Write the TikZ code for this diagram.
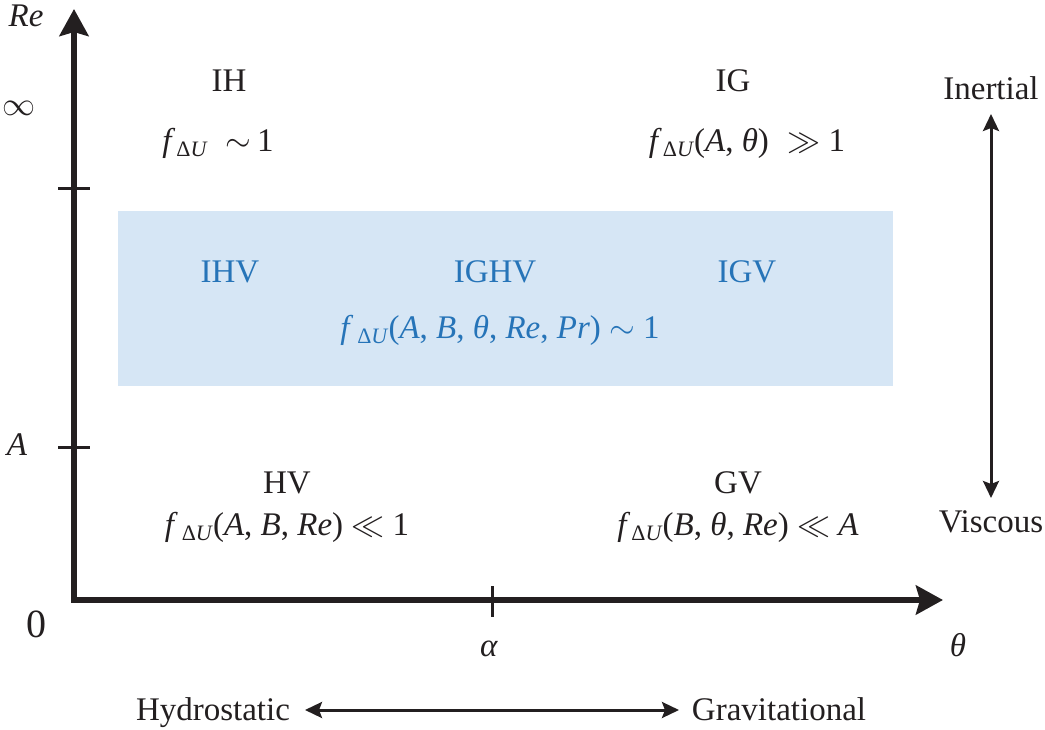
\RequirePackage{fix-cm}
\documentclass[tikz,border=0pt]{standalone}
\usepackage{fontspec}
\setmainfont{Liberation Serif}
\usetikzlibrary{arrows.meta}
\definecolor{ink}{RGB}{35,31,32}
\definecolor{bluetxt}{RGB}{38,116,184}
\definecolor{bluefill}{RGB}{214,230,245}
\newcommand{\mi}[1]{\textit{#1}}
\newcommand{\fdu}{\textit{f}\kern1pt\raisebox{-5pt}{\fontsize{22}{22}\selectfont Δ\textit{U}}}
\newcommand{\fduw}{\textit{f}\kern4pt\raisebox{-5pt}{\fontsize{22}{22}\selectfont Δ\textit{U}}}
\tikzset{
  lbl/.style={inner sep=0pt, anchor=base, font=\fontsize{33}{38}\selectfont, text=ink},
  bl/.style={lbl, text=bluetxt},
  axis/.style={draw=ink, line width=6pt, line join=miter},
  tick/.style={draw=ink, line width=3pt},
  bigtip/.tip={Stealth[length=27pt,width=29pt,inset=4pt]},
  smalltip/.tip={Stealth[length=17pt,width=16pt,inset=3pt]},
  side/.style={draw=ink, line width=3pt}
}
\begin{document}
\begin{tikzpicture}[x=1pt,y=-1pt]
\useasboundingbox (0,0) rectangle (1045,730);
% blue band
\fill[bluefill] (118,211) rectangle (893,386);
% axes
\coordinate (ytop) at (74,9);
\coordinate (orig) at (74,600);
\coordinate (xend) at (943,600);
\draw[axis, {bigtip}-{bigtip}] (ytop) -- (orig) -- (xend);
% ticks
\coordinate (t1a) at (58,189); \coordinate (t1b) at (90,189);
\coordinate (t2a) at (58,447); \coordinate (t2b) at (90,447);
\coordinate (t3a) at (492,586); \coordinate (t3b) at (492,617);
\draw[tick] (t1a) -- (t1b);
\draw[tick] (t2a) -- (t2b);
\draw[tick] (t3a) -- (t3b);
% axis labels
\node[lbl] (re) at (26,27) {\mi{Re}};
\node[lbl] (inf) at (19,116) {$\infty$};
\node[lbl] (a) at (17,455) {\mi{A}};
\node[lbl, font=\fontsize{40}{44}\selectfont] (zero) at (37,637) {0};
\node[lbl] (alpha) at (489,656) {\mi{α}};
\node[lbl] (theta) at (958,656) {\mi{θ}};
% regions
\node[lbl] (ih) at (229,92) {IH};
\node[lbl] (ihf) at (218,152) {\fdu\;\;$\sim$\,1};
\node[lbl] (ig) at (733,92) {IG};
\node[lbl] (igf) at (747,152) {\fdu(\mi{A}, \mi{θ})\;\;$\gg$ 1};
\node[bl] (ihv) at (230,283) {IHV};
\node[bl] (ighv) at (495,283) {IGHV};
\node[bl] (igv) at (747,283) {IGV};
\node[bl] (ighvf) at (500,338) {\fduw(\mi{A}, \mi{B}, \mi{θ}, \mi{Re}, \mi{Pr}) $\sim$ 1};
\node[lbl] (hv) at (287,493) {HV};
\node[lbl] (hvf) at (287,535) {\fduw(\mi{A}, \mi{B}, \mi{Re}) $\ll$ 1};
\node[lbl] (gv) at (738,493) {GV};
\node[lbl] (gvf) at (738,535) {\fdu(\mi{B}, \mi{θ}, \mi{Re}) $\ll$ \mi{A}};
% side arrows
\node[lbl] (inertial) at (991,100) {Inertial};
\node[lbl] (viscous) at (991,532) {Viscous};
\coordinate (vtop) at (991,114);
\coordinate (vbot) at (991,498);
\draw[side, {smalltip}-{smalltip}] (vtop) -- (vbot);
\node[lbl] (hydro) at (213,720) {Hydrostatic};
\node[lbl] (grav) at (779,720) {Gravitational};
\coordinate (hl) at (305,710);
\coordinate (hr) at (679,710);
\draw[side, {smalltip}-{smalltip}] (hl) -- (hr);
\end{tikzpicture}
\end{document}
